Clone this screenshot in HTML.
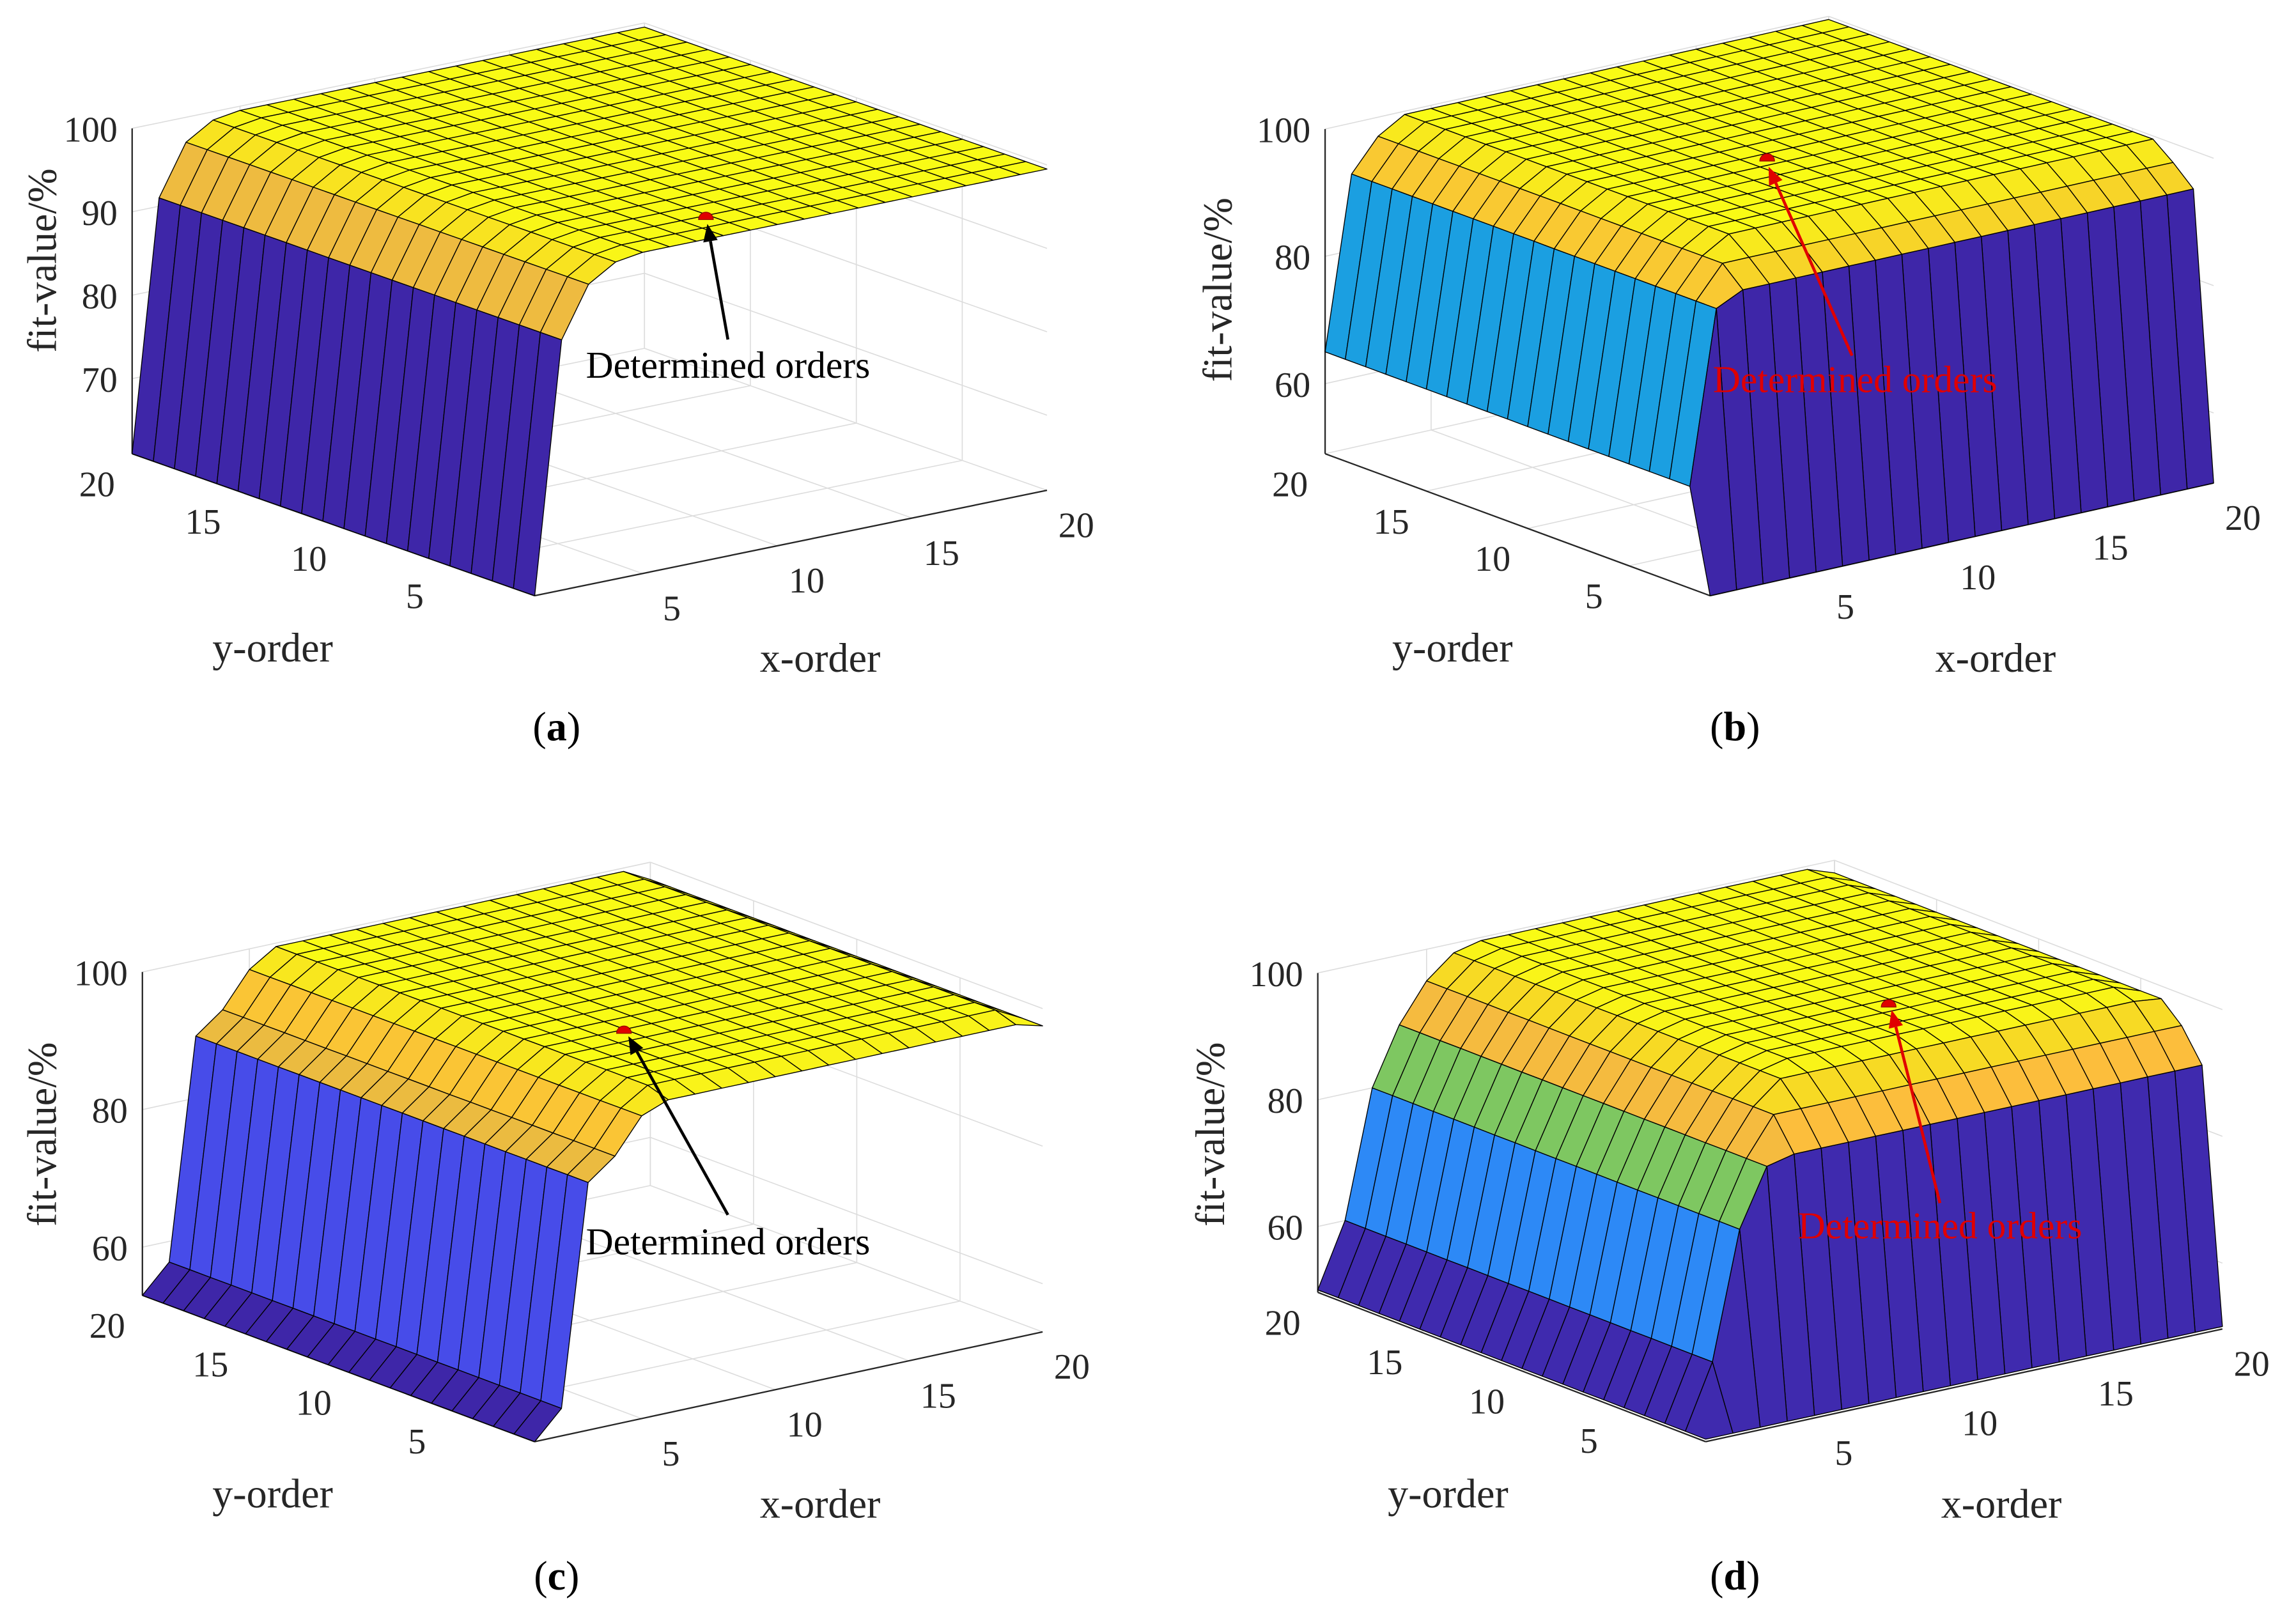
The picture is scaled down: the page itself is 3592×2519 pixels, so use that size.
<!DOCTYPE html>
<html><head><meta charset="utf-8"><title>Fit-value surfaces</title>
<style>
html,body{margin:0;padding:0;background:#fff;}
svg{display:block;font-family:"Liberation Serif","Times New Roman",serif;}
</style></head>
<body>
<svg id="fig" xmlns="http://www.w3.org/2000/svg" width="3592" height="2519" viewBox="0 0 1568 1100">
<rect x="0" y="0" width="1568" height="1100" fill="#fff"/>
</svg>
<script>
// ---- data: surface profiles (fit-value %) along x-order and y-order, index 1..20 ----
const xProfileA = [61,91,97,99,99.5,99.5,99.5,99.5,99.5,99.5,99.5,99.5,99.5,99.5,99.5,99.5,99.5,99.5,99.5,99.5];
const yProfileA = [99.5,99.5,99.5,99.5,99.5,99.5,99.5,99.5,99.5,99.5,99.5,99.5,99.5,99.5,99.5,99.5,99.5,99.5,99.5,99.5];
const xProfileB = [65,92,97,99.5,99.5,99.5,99.5,99.5,99.5,99.5,99.5,99.5,99.5,99.5,99.5,99.5,99.5,99.5,99.5,99.5];
const yProfileB = [49,94,97,99.5,99.5,99.5,99.5,99.5,99.5,99.5,99.5,99.5,99.5,99.5,99.5,99.5,99.5,99.5,99.5,99.5];
const xProfileC = [53,57,89,92,97,99.5,99.5,99.5,99.5,99.5,99.5,99.5,99.5,99.5,99.5,99.5,99.5,99.5,99.5,97.5];
const yProfileC = [98.5,99.5,99.5,99.5,99.5,99.5,99.5,99.5,99.5,99.5,99.5,99.5,99.5,99.5,99.5,99.5,99.5,99.5,99.5,99.5];
const xProfileD = [50,60,80,89,95,98.5,99.5,99.5,99.5,99.5,99.5,99.5,99.5,99.5,99.5,99.5,99.5,99.5,99.5,98];
const yProfileD = [50,90,95,98.5,99.5,99.5,99.5,99.5,99.5,99.5,99.5,99.5,99.5,99.5,99.5,99.5,99.5,99.5,99.5,99.5];
const axisTicks = [5,10,15,20];
const zTicksA = [70,80,90,100];
const zTicksB = [60,80,100];
const zTicksC = [60,80,100];
const zTicksD = [60,80,100];

const NS = "http://www.w3.org/2000/svg";
const svg = document.getElementById('fig');
function mk(tag, attrs, parent){
  const e = document.createElementNS(NS, tag);
  for (const k in attrs) e.setAttribute(k, attrs[k]);
  (parent||svg).appendChild(e);
  return e;
}
const PAR = [[0,62,38,168],[0.1,72,82,244],[0.2,46,135,247],[0.3,30,155,230],[0.4,10,180,200],[0.5,50,190,160],[0.6,120,200,100],[0.7,186,188,70],[0.8,252,187,62],[0.9,247,214,38],[1,249,251,21]];
function parula(t){
  t=Math.max(0,Math.min(1,t));
  for(let k=0;k<PAR.length-1;k++){
    const a=PAR[k],b=PAR[k+1];
    if(t<=b[0]){const f=(t-a[0])/(b[0]-a[0]);
      return 'rgb('+[1,2,3].map(c=>Math.round(a[c]+(b[c]-a[c])*f)).join(',')+')';}
  }
  return 'rgb(249,251,21)';
}

function drawPanel(cfg, xp, yp, zTicks){
  const g = mk('g',{});
  
  
  const ex=[(cfg.X20[0]-cfg.O[0])/19,(cfg.X20[1]-cfg.O[1])/19];
  const ey=[(cfg.Y20[0]-cfg.O[0])/19,(cfg.Y20[1]-cfg.O[1])/19];
  const P=(x,y,z)=>[cfg.O[0]+(x-1)*ex[0]+(y-1)*ey[0], cfg.O[1]+(x-1)*ex[1]+(y-1)*ey[1]-(z-cfg.zmin)*cfg.zs];
  const line=(a,b,st,w,name)=>{const l=mk('line',{x1:a[0],y1:a[1],x2:b[0],y2:b[1],stroke:st,'stroke-width':w},g);
    
    return l;};
  const gc='#dcdcdc', zmax=100;
  axisTicks.forEach(t=>{
    line(P(t,1,cfg.zmin),P(t,20,cfg.zmin),gc,0.7,'floor-grid-x');
    line(P(1,t,cfg.zmin),P(20,t,cfg.zmin),gc,0.7,'floor-grid-y');
    line(P(t,20,cfg.zmin),P(t,20,zmax),gc,0.7,'back-grid-x');
    line(P(20,t,cfg.zmin),P(20,t,zmax),gc,0.7,'side-grid-y');
  });
  zTicks.forEach(t=>{
    line(P(1,20,t),P(20,20,t),gc,0.7,'back-grid-z');
    line(P(20,1,t),P(20,20,t),gc,0.7,'side-grid-z');
  });
  line(P(1,20,cfg.zmin),P(1,20,zmax),gc,0.7,'back-edge');
  line(P(1,1,cfg.zmin),P(20,1,cfg.zmin),'#262626',1,'x-axis');
  line(P(1,1,cfg.zmin),P(1,20,cfg.zmin),'#262626',1,'y-axis');
  line(P(1,20,cfg.zmin),P(1,20,zmax),'#262626',1,'z-axis');
  const Z=(i,j)=>Math.min(xp[i],yp[j]);
  const facets=[];
  for(let i=0;i<19;i++)for(let j=0;j<19;j++)facets.push([i,j]);
  facets.sort((a,b)=>(b[0]*1.1+b[1])-(a[0]*1.1+a[1]));
  facets.forEach(([i,j])=>{
    const pts=[P(i+1,j+1,Z(i,j)),P(i+2,j+1,Z(i+1,j)),P(i+2,j+2,Z(i+1,j+1)),P(i+1,j+2,Z(i,j+1))];
    const c=parula((Z(i,j)-cfg.cmin)/(cfg.cmax-cfg.cmin));
    const p=mk('polygon',{points:pts.map(q=>q[0].toFixed(1)+','+q[1].toFixed(1)).join(' '),fill:c,stroke:'#000','stroke-width':0.6,'stroke-linejoin':'round'},g);
    
    
  });
  zTicks.forEach(t=>{
    const q=P(1,20,t);
    const tx=mk('text',{x:q[0]-10,y:q[1]+9,'font-size':24.5,'text-anchor':'end',fill:'#262626'},g);
    tx.textContent=t;
    
    
  });
  axisTicks.forEach(t=>{
    const q=P(1,t,cfg.zmin);
    const tx=mk('text',{x:q[0]-24,y:q[1]+29,'font-size':24.5,'text-anchor':'middle',fill:'#262626'},g);
    tx.textContent=t;
    
    
    const r=P(t,1,cfg.zmin);
    const tx2=mk('text',{x:r[0]+20,y:r[1]+32,'font-size':24.5,'text-anchor':'middle',fill:'#262626'},g);
    tx2.textContent=t;
    
    
  });
  const zt=mk('text',{x:0,y:0,'font-size':28,'text-anchor':'middle',fill:'#262626',transform:'translate('+(cfg.zl[0]+1)+','+cfg.zl[1]+') rotate(-90)'},g);
  zt.textContent='fit-value/%';
  
  
  const yt=mk('text',{x:cfg.yl[0]-1,y:cfg.yl[1],'font-size':28,'text-anchor':'middle',fill:'#262626'},g);
  yt.textContent='y-order';
  
  
  const xt=mk('text',{x:cfg.xl[0],y:cfg.xl[1],'font-size':28,'text-anchor':'middle',fill:'#262626'},g);
  xt.textContent='x-order';
  
  
  const a=cfg.ann;
  const dot=mk('path',{d:'M'+(a.dot[0]-5)+','+a.dot[1]+' a5,5 0 0 1 10,0 z',fill:'#e00000',stroke:'#900','stroke-width':0.6},g);
  
  
  const dx=a.tip[0]-a.from[0], dy=a.tip[1]-a.from[1], L=Math.hypot(dx,dy), ux=dx/L, uy=dy/L;
  const base=[a.tip[0]-ux*12,a.tip[1]-uy*12];
  const ar=mk('line',{x1:a.from[0],y1:a.from[1],x2:base[0],y2:base[1],stroke:a.col,'stroke-width':2},g);
  
  
  const hd=mk('polygon',{points:[a.tip,[base[0]-uy*5,base[1]+ux*5],[base[0]+uy*5,base[1]-ux*5]].map(q=>q.join(',')).join(' '),fill:a.col},g);
  
  
  const at=mk('text',{x:a.text[0],y:a.text[1],'font-size':26,fill:a.col},g);
  at.textContent='Determined orders';
  
  
  const cp=mk('text',{x:cfg.cap[0],y:cfg.cap[1],'font-size':28,'text-anchor':'middle',fill:'#000'},g);
  cp.innerHTML='(<tspan font-weight="bold">'+cfg.letter+'</tspan>)';
  
  
}

drawPanel({name:'panel-a',O:[365,407],X20:[715,335],Y20:[90,310],zs:5.7,zmin:61,cmin:61,cmax:99.5,
  zl:[37,178],yl:[187,452],xl:[560,459],cap:[380,506],letter:'a',
  ann:{dot:[482,150],from:[497,232],tip:[483,153],text:[400,258],col:'#000'}}, xProfileA, yProfileA, zTicksA);
drawPanel({name:'panel-b',O:[1168,407],X20:[1512,330],Y20:[905,310],zs:4.35,zmin:49,cmin:49,cmax:99.5,
  zl:[840,198],yl:[993,452],xl:[1363,459],cap:[1185,506],letter:'b',
  ann:{dot:[1207,110],from:[1265,243],tip:[1208,114],text:[1170,268],col:'#e00000'}}, xProfileB, yProfileB, zTicksB);
drawPanel({name:'panel-c',O:[365,985],X20:[712,910],Y20:[97,885],zs:4.7,zmin:53,cmin:53,cmax:99.5,
  zl:[37,775],yl:[187,1030],xl:[560,1037],cap:[380,1086],letter:'c',
  ann:{dot:[426,706],from:[497,830],tip:[429,708],text:[400,857],col:'#000'}}, xProfileC, yProfileC, zTicksC);
drawPanel({name:'panel-d',O:[1165,985],X20:[1518,908],Y20:[900,883],zs:4.33,zmin:49.6,cmin:49.6,cmax:99.5,
  zl:[835,775],yl:[990,1030],xl:[1367,1037],cap:[1185,1086],letter:'d',
  ann:{dot:[1290,688],from:[1325,822],tip:[1292,690],text:[1228,846],col:'#e00000'}}, xProfileD, yProfileD, zTicksD);
</script>
</body></html>
